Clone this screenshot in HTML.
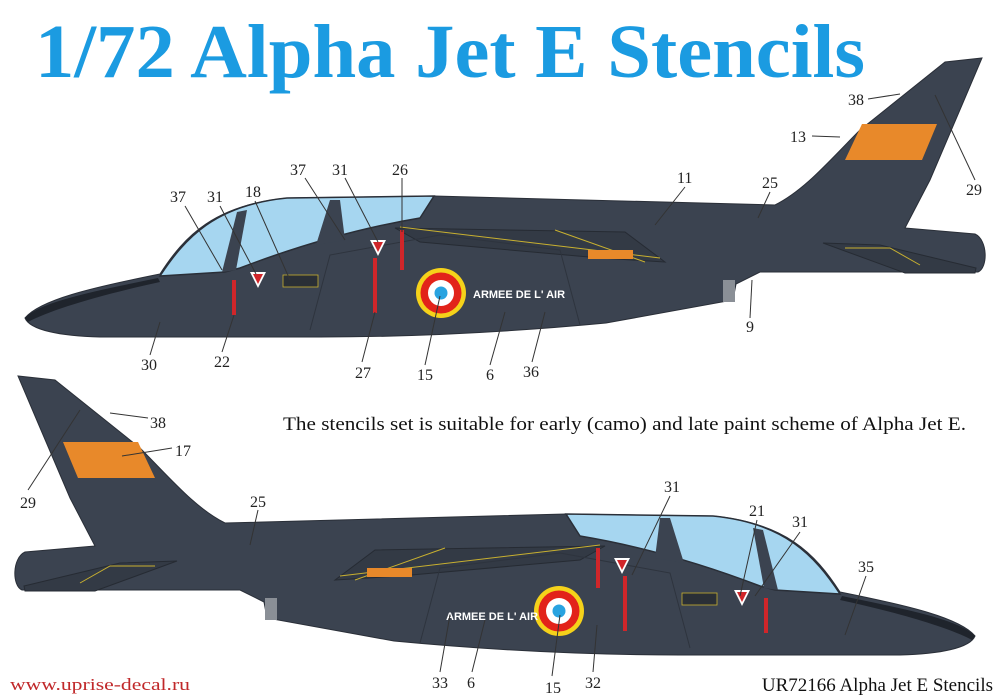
<!DOCTYPE html>
<html><head><meta charset="utf-8"><style>
html,body{margin:0;padding:0;background:#fff;}
svg{display:block;}
.n{font-family:"Liberation Serif",serif;font-size:16px;fill:#222;}
.l{stroke:#333;stroke-width:1;fill:none;}
</style></head><body>
<svg width="1000" height="700" viewBox="0 0 1000 700" xmlns="http://www.w3.org/2000/svg">
<rect width="1000" height="700" fill="#fff"/>
<text x="35" y="77" font-family="Liberation Serif,serif" font-weight="bold" font-size="76" fill="#1b9be1" textLength="830" lengthAdjust="spacingAndGlyphs">1/72 Alpha Jet E Stencils</text>

<defs>
<g id="jet">
  <path d="M25,318 C40,300 90,288 160,274 C185,235 215,205 287,198 L434,196 L775,205 C805,190 830,160 860,130 L945,62 L982,58 L962,105 L930,180 L905,228 L975,234 C988,240 988,268 978,272 L760,272 L736,284 L733,300 L606,323 C500,333 400,337 320,337 L100,337 C60,336 30,330 25,318 Z" fill="#3b4350" stroke="#2a2f38" stroke-width="1"/>
  <path d="M160,276 C185,238 215,205 287,198 L434,196 L420,218 C360,228 300,245 240,268 L225,272 Z" fill="#a6d6f0" stroke="#2a2f38" stroke-width="1.5"/>
  <path d="M222,272 L237,212 L247,210 L236,270 Z" fill="#3b4350"/>
  <path d="M316,245 L330,200 L340,200 L345,240 Z" fill="#3b4350"/>
  <path d="M25,318 C40,302 90,292 158,278 L160,282 C100,295 50,310 28,322 Z" fill="#1f242c"/>
  <path d="M395,228 L625,232 L665,262 L600,258 L420,242 Z" fill="#333a45" stroke="#262b33"/>
  <path d="M400,227 L660,258" stroke="#c8b030" stroke-width="1"/>
  <path d="M555,230 L645,262" stroke="#c8b030" stroke-width="1"/>
  <rect x="588" y="250" width="45" height="9" fill="#e8892a"/>
  <path d="M823,243 L880,245 L976,268 L975,273 L905,273 Z" fill="#333a45" stroke="#262b33"/>
  <path d="M845,248 L890,248 L920,265" stroke="#c8b030" fill="none"/>
  <rect x="723" y="280" width="12" height="22" fill="#8a8f96"/>
  <path d="M862,124 L937,124 L922,160 L845,160 Z" fill="#e8892a"/>
  <path d="M310,330 L330,255 L440,235 L560,250 L580,325" fill="none" stroke="#2e343e"/>
  <circle cx="441" cy="293" r="25" fill="#f5d21a"/>
  <circle cx="441" cy="293" r="20.5" fill="#e2231a"/>
  <circle cx="441" cy="293" r="13" fill="#fff"/>
  <circle cx="441" cy="293" r="6.5" fill="#29a3e0"/>
  <rect x="232" y="280" width="4" height="35" fill="#d0262a"/>
  <rect x="373" y="258" width="4" height="55" fill="#d0262a"/>
  <rect x="400" y="230" width="4" height="40" fill="#d0262a"/>
  <path d="M250,272 L266,272 L258,288 Z" fill="#fff"/><path d="M253,274 L263,274 L258,284 Z" fill="#d0262a"/>
  <path d="M370,240 L386,240 L378,256 Z" fill="#fff"/><path d="M373,242 L383,242 L378,252 Z" fill="#d0262a"/>
  <rect x="283" y="275" width="35" height="12" fill="#2a2f36" stroke="#c8b030" stroke-width="0.8"/>
</g>
</defs>

<use href="#jet"/>
<use href="#jet" transform="translate(1000,318) scale(-1,1)"/>

<text x="473" y="298" font-family="Liberation Sans,sans-serif" font-weight="bold" font-size="11" fill="#fff">ARMEE DE L' AIR</text>
<text x="446" y="620" font-family="Liberation Sans,sans-serif" font-weight="bold" font-size="11" fill="#fff">ARMEE DE L' AIR</text>

<g class="n">
<text x="170" y="202">37</text><text x="207" y="202">31</text><text x="245" y="197">18</text>
<text x="290" y="175">37</text><text x="332" y="175">31</text><text x="392" y="175">26</text>
<text x="677" y="183">11</text><text x="762" y="188">25</text><text x="848" y="105">38</text>
<text x="790" y="142">13</text><text x="966" y="195">29</text>
<text x="141" y="370">30</text><text x="214" y="367">22</text><text x="355" y="378">27</text>
<text x="417" y="380">15</text><text x="486" y="380">6</text><text x="523" y="377">36</text>
<text x="746" y="332">9</text>
<text x="150" y="428">38</text><text x="175" y="456">17</text><text x="20" y="508">29</text>
<text x="250" y="507">25</text><text x="664" y="492">31</text><text x="749" y="516">21</text>
<text x="792" y="527">31</text><text x="858" y="572">35</text>
<text x="432" y="688">33</text><text x="467" y="688">6</text><text x="545" y="693">15</text><text x="585" y="688">32</text>
</g>
<g class="l">
<path d="M185,206 L222,270"/><path d="M220,206 L256,274"/><path d="M255,201 L290,280"/>
<path d="M305,178 L345,240"/><path d="M345,178 L378,242"/><path d="M402,178 L402,232"/>
<path d="M685,187 L655,225"/><path d="M770,192 L758,218"/><path d="M868,99 L900,94"/>
<path d="M812,136 L840,137"/><path d="M975,180 L935,95"/>
<path d="M150,355 L160,322"/><path d="M222,352 L234,315"/><path d="M362,362 L375,312"/>
<path d="M425,365 L440,296"/><path d="M490,365 L505,312"/><path d="M532,362 L545,312"/>
<path d="M750,318 L752,280"/>
<path d="M148,418 L110,413"/><path d="M172,448 L122,456"/><path d="M28,490 L80,410"/>
<path d="M258,510 L250,545"/><path d="M670,496 L632,575"/><path d="M757,520 L740,596"/>
<path d="M800,532 L755,596"/><path d="M866,576 L845,635"/>
<path d="M440,672 L450,615"/><path d="M472,672 L485,620"/><path d="M552,676 L560,615"/><path d="M593,672 L597,625"/>
</g>
<text x="283" y="430" font-family="Liberation Serif,serif" font-size="19" fill="#111" textLength="683" lengthAdjust="spacingAndGlyphs">The stencils set is suitable for early (camo) and late paint scheme of Alpha Jet E.</text>
<text x="10" y="690" font-family="Liberation Serif,serif" font-size="17" fill="#c0282a" textLength="180" lengthAdjust="spacingAndGlyphs">www.uprise-decal.ru</text>
<text x="993" y="691" text-anchor="end" font-family="Liberation Serif,serif" font-size="19" fill="#111">UR72166 Alpha Jet E Stencils</text>
</svg>
</body></html>
